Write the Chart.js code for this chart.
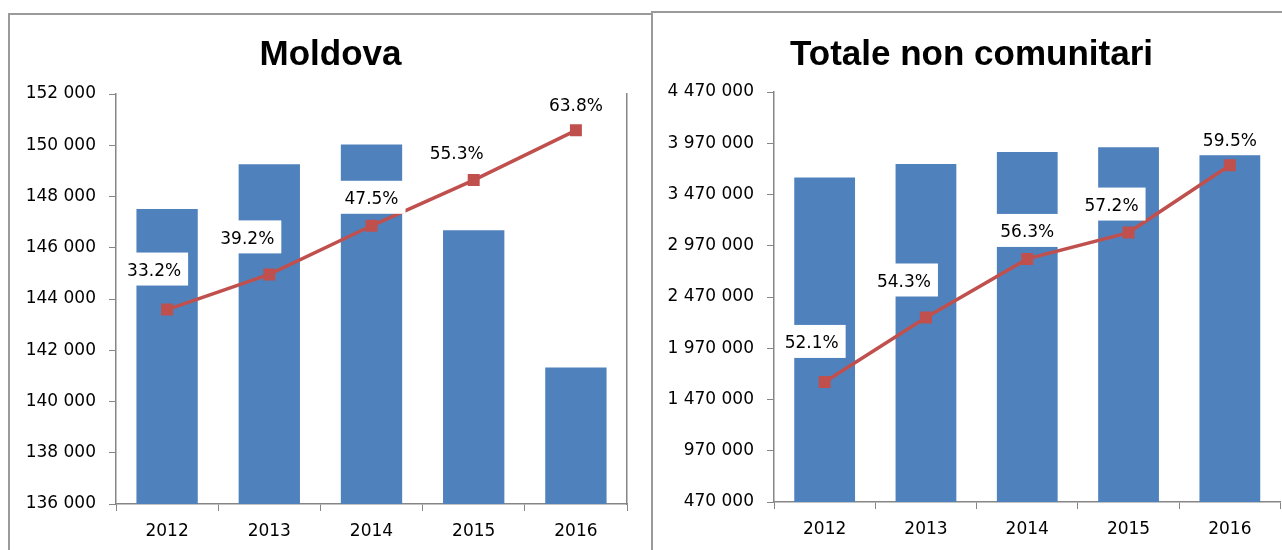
<!DOCTYPE html>
<html lang="it">
<head>
<meta charset="utf-8">
<script src="https://cdn.jsdelivr.net/npm/chart.js@4.4.0/dist/chart.umd.min.js"></script>
<style>
  html, body { margin: 0; padding: 0; background: #fff; overflow: hidden; width: 1282px; height: 550px; }
  .frame { position: absolute; border: 2px solid #9a9a9a; background: #fff; }
  #frameMd { left: 8px; top: 13px; width: 700px; height: 600px; }
  #frameTot { left: 651px; top: 11px; width: 700px; height: 600px; }
  canvas { position: absolute; }
  #chartMd { left: 10px; top: 15px; }
  #chartTot { left: 653px; top: 13px; }
</style>
</head>
<body>
  <div class="frame" id="frameMd"></div>
  <canvas id="chartMd" width="641" height="535"></canvas>
  <div class="frame" id="frameTot"></div>
  <canvas id="chartTot" width="637" height="537"></canvas>

<script>
  // dati
  const years = ['2012', '2013', '2014', '2015', '2016'];

  const moldovaValues = [147510, 149260, 150030, 146680, 141330];
  const moldovaShare = [33.2, 39.2, 47.5, 55.3, 63.8];
  const moldovaTicks = [136000, 138000, 140000, 142000, 144000, 146000, 148000, 150000, 152000];
  const moldovaShareRange = [0, 70];

  const totaleValues = [3637000, 3768000, 3885000, 3930000, 3861000];
  const totaleShare = [52.1, 54.3, 56.3, 57.2, 59.5];
  const totaleTicks = [470000, 970000, 1470000, 1970000, 2470000, 2970000, 3470000, 3970000, 4470000];
  const totaleShareRange = [48, 62];

  const axisColor = '#868686';
  const tickFont = { family: '"DejaVu Sans"', size: 17 };
  const labelOffsets = [[-13, -38], [-22, -35], [0, -26], [-17, -26], [0, -24]];

  function fmt(v) {
    return String(v).replace(/\B(?=(\d{3})+(?!\d))/g, ' ');
  }

  // etichette percentuali su sfondo bianco
  const shareLabels = {
    id: 'shareLabels',
    afterDatasetsDraw(chart, args, opts) {
      const meta = chart.getDatasetMeta(1);
      const ds = chart.data.datasets[1];
      const ctx = chart.ctx;
      ctx.save();
      ctx.font = '17px "DejaVu Sans"';
      ctx.textAlign = 'center';
      ctx.textBaseline = 'middle';
      meta.data.forEach((pt, i) => {
        const txt = ds.data[i].toFixed(1) + '%';
        const x = pt.x + opts.offsets[i][0];
        const y = pt.y + opts.offsets[i][1];
        const w = ctx.measureText(txt).width + 14;
        ctx.fillStyle = '#fff';
        ctx.fillRect(x - w / 2, y - 19, w, 33);
        ctx.fillStyle = '#000';
        ctx.fillText(txt, x, y);
      });
      ctx.restore();
    }
  };

  function makeChart(id, title, values, share, ticks, shareRange, yWidth, y1Width, xHeight, titlePad, rightLine) {
    const ctx = document.getElementById(id).getContext('2d');
    return new Chart(ctx, {
      data: {
        labels: years,
        datasets: [{
          type: 'bar',
          data: values,
          backgroundColor: '#4F81BD',
          categoryPercentage: 1,
          barPercentage: 0.6,
          yAxisID: 'y',
          order: 1
        }, {
          type: 'line',
          data: share,
          borderColor: '#C0504D',
          borderWidth: 3.5,
          pointStyle: 'rect',
          pointRadius: 6,
          pointBackgroundColor: '#C0504D',
          pointBorderColor: '#C0504D',
          tension: 0,
          yAxisID: 'y1',
          order: 0
        }]
      },
      options: {
        responsive: false,
        animation: false,
        layout: { padding: 0 },
        plugins: {
          legend: { display: false },
          tooltip: { enabled: false },
          title: {
            display: true,
            text: title,
            color: '#000',
            font: { family: '"Liberation Sans"', size: 35, weight: 'bold' },
            padding: titlePad
          },
          shareLabels: { offsets: labelOffsets }
        },
        scales: {
          x: {
            grid: { display: true, drawOnChartArea: false, offset: true, tickLength: 7, color: axisColor },
            border: { color: axisColor, width: 1.5 },
            ticks: { font: tickFont, color: '#000', padding: 10 },
            afterFit: s => { s.height = xHeight; }
          },
          y: {
            position: 'left',
            min: ticks[0],
            max: ticks[ticks.length - 1],
            afterBuildTicks: s => { s.ticks = ticks.map(v => ({ value: v })); },
            grid: { drawOnChartArea: false, tickLength: 7, color: axisColor },
            border: { color: axisColor, width: 1.5 },
            ticks: { font: tickFont, color: '#000', padding: 13, callback: v => fmt(v) },
            afterFit: s => { s.width = yWidth; }
          },
          y1: {
            position: 'right',
            min: shareRange[0],
            max: shareRange[1],
            grid: { display: false },
            ticks: { display: false },
            border: { display: rightLine, color: axisColor, width: 1.5 },
            afterFit: s => { s.width = y1Width; }
          }
        }
      },
      plugins: [shareLabels]
    });
  }

  makeChart('chartMd', 'Moldova', moldovaValues, moldovaShare, moldovaTicks, moldovaShareRange,
    106, 24, 46, { top: 19, bottom: 18 }, true);
  makeChart('chartTot', 'Totale non comunitari', totaleValues, totaleShare, totaleTicks, totaleShareRange,
    121, 4, 48, { top: 21, bottom: 16 }, false);
</script>
</body>
</html>
